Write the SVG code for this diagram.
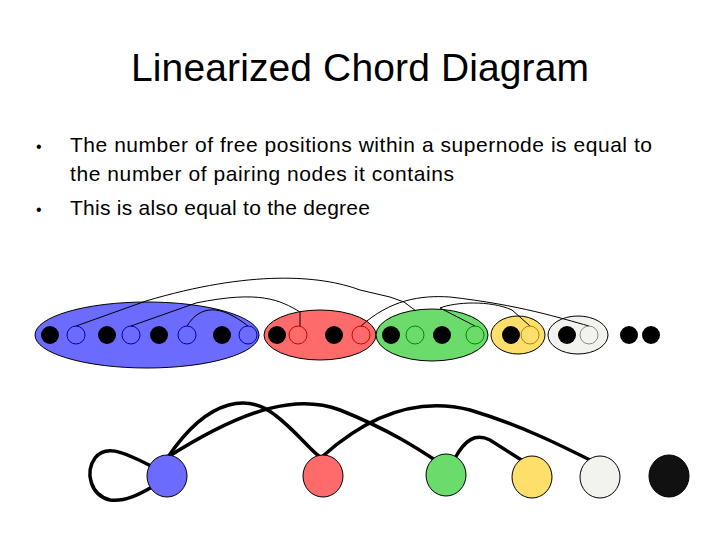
<svg xmlns="http://www.w3.org/2000/svg" width="720" height="540" viewBox="0 0 720 540">
<style>
text{font-family:"Liberation Sans","DejaVu Sans",sans-serif;fill:#000}
.e{stroke:#000;stroke-width:1}
.ch{fill:none;stroke:#000;stroke-width:1}
.bg{fill:none;stroke:#000;stroke-width:3.5;stroke-linecap:round}
.n{stroke:#000;stroke-width:1}
</style>
<rect width="720" height="540" fill="#fff"/>
<text x="360" y="81" font-size="39" text-anchor="middle" textLength="458">Linearized Chord Diagram</text>
<g font-size="21">
<text x="36" y="152" font-size="16">•</text><text x="70" y="152" textLength="582">The number of free positions within a supernode is equal to</text>
<text x="70" y="181" textLength="384">the number of pairing nodes it contains</text>
<text x="36" y="215" font-size="16">•</text><text x="70" y="215" textLength="300">This is also equal to the degree</text>
</g>
<g id="supernodes">
<ellipse id="sn-blue" cx="147" cy="335" rx="112" ry="33" fill="#6b6bff" class="e"/>
<ellipse id="sn-red" cx="320" cy="335" rx="56" ry="25" fill="#ff6b6b" class="e"/>
<ellipse id="sn-green" cx="432" cy="335" rx="56" ry="26" fill="#6bdc6b" class="e"/>
<ellipse id="sn-yellow" cx="518" cy="335" rx="27" ry="19" fill="#ffdf6b" class="e"/>
<ellipse id="sn-white" cx="578" cy="335" rx="30" ry="19" fill="#f2f2ee" class="e"/>
</g>
<g id="chords">
<path class="ch" d="M76 326 L146 301 C250 270 320 275 360 290 L390 297"/>
<path class="ch" d="M390 297 L404 302 L416 311" stroke="#0a0"/>
<path class="ch" d="M131 326 L196 303 C260 290 280 300 300 312 L300 326"/>
<path class="ch" d="M187 326 C200 305 220 304 248 326"/>
<path class="ch" d="M361 326 C390 300 420 295 450 297 C520 305 560 318 589 326"/>
<path class="ch" d="M475 326 L440 308 C455 302 490 300 512 310 L530 326"/>
</g>
<g id="slots" fill="none">
<g stroke="#00a"><circle cx="76" cy="335" r="9"/><circle cx="131" cy="335" r="9"/><circle cx="187" cy="335" r="9"/><circle cx="248" cy="335" r="9"/></g>
<g stroke="#c00"><circle cx="298" cy="335" r="9"/><circle cx="361" cy="335" r="9"/></g>
<g stroke="#080"><circle cx="415" cy="335" r="9"/><circle cx="475" cy="335" r="9"/></g>
<g stroke="#a80"><circle cx="530" cy="335" r="9"/></g>
<g stroke="#888"><circle cx="589" cy="335" r="9"/></g>
<g fill="#000"><circle cx="50" cy="335" r="9"/><circle cx="107" cy="335" r="9"/><circle cx="159" cy="335" r="9"/><circle cx="222" cy="335" r="9"/><circle cx="277" cy="335" r="9"/><circle cx="334" cy="335" r="9"/><circle cx="391" cy="335" r="9"/><circle cx="442" cy="335" r="9"/><circle cx="511" cy="335" r="9"/><circle cx="567" cy="335" r="9"/><circle cx="629" cy="335" r="9"/><circle cx="651" cy="335" r="9"/></g>
</g>
<g id="graph-edges">
<path class="bg" d="M151 466 C120 450 105 445 95 458 C85 472 90 495 110 500 C125 502 140 494 152 487"/>
<path class="bg" d="M168 457 C210 395 250 395 275 415 C295 430 310 450 320 457"/>
<path class="bg" d="M168 457 C250 405 300 395 340 410 C390 430 420 450 438 462"/>
<path class="bg" d="M323 456 C380 405 430 400 470 410 C520 425 560 445 590 460"/>
<path class="bg" d="M455 458 C465 440 475 433 490 440 L523 461"/>
</g>
<g id="nodes">
<ellipse id="n-blue" cx="167" cy="476" rx="20" ry="21" fill="#6b6bff" class="n"/>
<ellipse id="n-red" cx="323" cy="476" rx="20" ry="21" fill="#ff6b6b" class="n"/>
<ellipse id="n-green" cx="446" cy="475" rx="20" ry="21" fill="#6bdc6b" class="n"/>
<ellipse id="n-yellow" cx="532" cy="477" rx="20" ry="21" fill="#ffdf6b" class="n"/>
<ellipse id="n-white" cx="600" cy="477" rx="20" ry="21" fill="#f2f2ee" class="n"/>
<ellipse id="n-black" cx="669" cy="476" rx="20" ry="21" fill="#111" class="n"/>
</g>
</svg>
